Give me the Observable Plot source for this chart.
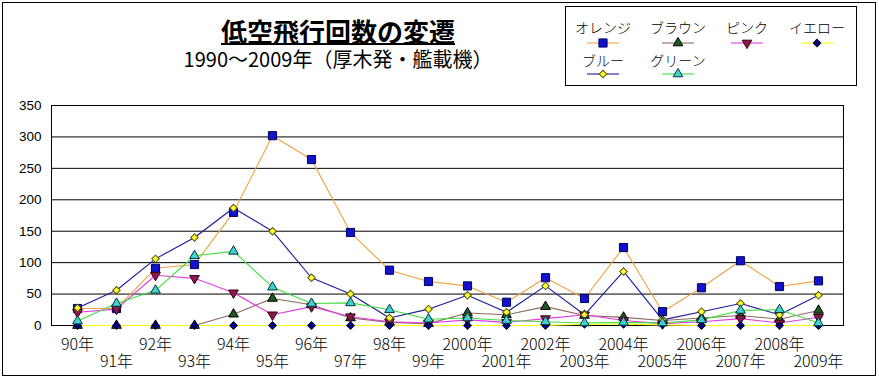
<!DOCTYPE html>
<html>
<head>
<meta charset="utf-8">
<script src="https://cdn.jsdelivr.net/npm/d3@7"></script>
<script src="https://cdn.jsdelivr.net/npm/@observablehq/plot@0.6"></script>
<style>
  html, body { margin: 0; padding: 0; background: #fff; }
  #wrap { position: relative; width: 879px; height: 379px; font-family: "Noto Sans CJK JP", sans-serif; }
  #chart { position: absolute; left: 0; top: 0; }
  .outer { position: absolute; left: 2px; top: 2px; width: 872px; height: 372px; border: 1px solid #000; pointer-events: none; }
  #title { position: absolute; left: 0; width: 676px; top: 19px; height: 26px; text-align: center; font-size: 26px; line-height: 24px; font-weight: bold; }
  #title span { border-bottom: 2px solid #000; display: inline-block; line-height: 24px; }
  #subtitle { position: absolute; left: 0; width: 676px; top: 49px; text-align: center; font-size: 20px; line-height: 20px; }
  .lbox { position: absolute; left: 565px; top: 6px; width: 290px; height: 78px; border: 1px solid #000; background: #fff; }
  .ltext { position: absolute; width: 80px; text-align: center; font-size: 14px; line-height: 14px; color: #000; font-weight: 300; }
  .lsym { position: absolute; }
</style>
</head>
<body>
<div id="wrap">
  <div id="chart"></div>
  <div class="outer"></div>
  <div id="title"><span>低空飛行回数の変遷</span></div>
  <div id="subtitle">1990～2009年（厚木発・艦載機）</div>
  <div class="lbox"></div>
  <div id="legend"></div>
</div>
<script>
// ---- data ----
const xLabels = ["90年","91年","92年","93年","94年","95年","96年","97年","98年","99年",
                 "2000年","2001年","2002年","2003年","2004年","2005年","2006年","2007年","2008年","2009年"];
const seriesNames = ["オレンジ","ブラウン","ピンク","イエロー","ブルー","グリーン"];
const orange = [27,27,91,97,180,302,264,148,88,70,63,37,76,43,124,22,60,103,62,71];
const brown  = [0,0,0,0,18,43,33,12,5,3,20,17,30,16,13,8,12,16,10,24];
const pink   = [21,26,80,75,52,17,30,14,6,4,9,5,11,17,8,3,6,11,4,13];
const yellow = [0,0,0,0,0,0,0,0,0,0,0,0,0,2,2,1,0,0,0,0];
const blue   = [28,56,106,140,187,150,76,50,12,26,48,21,63,17,86,9,22,35,17,48];
const green  = [7,35,56,111,118,61,35,36,25,10,12,8,6,4,5,4,9,24,25,4];
const yTicks = [0,50,100,150,200,250,300,350];

// ---- styles ----
const styles = [
  {line:"#f0a040", fill:"#1212cc", stroke:"#000060", symbol:"square",   rotate:0,   r:4.6},
  {line:"#8e6a5c", fill:"#1e5a1e", stroke:"#000000", symbol:"triangle", rotate:0,   r:3.6},
  {line:"#e03ce0", fill:"#8a1a4a", stroke:"#3a0018", symbol:"triangle", rotate:180, r:3.6},
  {line:"#ffff00", fill:"#000080", stroke:"#000040", symbol:"square",   rotate:45,  r:3.0},
  {line:"#1a1a99", fill:"#ffff33", stroke:"#555500", symbol:"square",   rotate:45,  r:3.0},
  {line:"#3ee03e", fill:"#40d0d0", stroke:"#003838", symbol:"triangle", rotate:0,   r:3.6}
];
const values = [orange, brown, pink, yellow, blue, green];

const rows = [];
values.forEach((arr, si) => arr.forEach((v, i) => rows.push({series: seriesNames[si], x: xLabels[i], y: v})));

const evenLabels = xLabels.filter((d, i) => i % 2 === 0);
const oddLabels  = xLabels.filter((d, i) => i % 2 === 1);

const marks = [
  Plot.gridY(yTicks, {stroke: "#000", strokeOpacity: 1, strokeWidth: 1}),
  Plot.frame({stroke: "#000"}),
  Plot.axisY({ticks: yTicks, tickSize: 0, tickPadding: 10, fontSize: 13.5, fontFamily: "Liberation Sans", label: null}),
  Plot.axisX({ticks: evenLabels, tickSize: 0, tickPadding: 13, fontSize: 16, fontWeight: 300, label: null}),
  Plot.axisX({ticks: oddLabels, tickSize: 0, tickPadding: 30, fontSize: 16, fontWeight: 300, label: null})
];
seriesNames.forEach((name, si) => {
  const s = styles[si];
  const data = rows.filter(d => d.series === name);
  marks.push(Plot.line(data, {x: "x", y: "y", stroke: s.line, strokeWidth: 1.1}));
});
seriesNames.forEach((name, si) => {
  const s = styles[si];
  const data = rows.filter(d => d.series === name);
  marks.push(Plot.dot(data, {x: "x", y: "y", symbol: () => s.symbol, r: s.r, rotate: s.rotate, fill: s.fill, stroke: s.stroke, strokeWidth: 1}));
});

const chart = Plot.plot({
  width: 879,
  height: 379,
  marginLeft: 51,
  marginRight: 36,
  marginTop: 105,
  marginBottom: 54,
  style: {fontFamily: "'Noto Sans CJK JP', sans-serif", background: "transparent", color: "#000"},
  x: {type: "point", domain: xLabels, padding: 0.5},
  y: {domain: [0, 350]},
  symbol: {type: "identity"},
  marks
});
document.getElementById("chart").appendChild(chart);

// ---- legend ----
const legendPos = [
  {cx: 603, ty: 20, ly: 43},
  {cx: 678, ty: 20, ly: 43},
  {cx: 747, ty: 20, ly: 43},
  {cx: 817, ty: 20, ly: 43},
  {cx: 603, ty: 53, ly: 74},
  {cx: 678, ty: 53, ly: 74}
];
const legend = document.getElementById("legend");
const symMap = {square: d3.symbolSquare, triangle: d3.symbolTriangle};
seriesNames.forEach((name, si) => {
  const p = legendPos[si], s = styles[si];
  const t = document.createElement("div");
  t.className = "ltext";
  t.style.left = (p.cx - 40) + "px";
  t.style.top = p.ty + "px";
  t.textContent = name;
  legend.appendChild(t);
  const svg = d3.create("svg").attr("class", "lsym").attr("width", 36).attr("height", 12)
    .style("left", (p.cx - 18) + "px").style("top", (p.ly - 6) + "px");
  svg.append("line").attr("x1", 2).attr("x2", 34).attr("y1", 6).attr("y2", 6).attr("stroke", s.line).attr("stroke-width", 1.1);
  svg.append("path").attr("d", d3.symbol(symMap[s.symbol], Math.PI * s.r * s.r)())
    .attr("transform", `translate(18,6) rotate(${s.rotate})`)
    .attr("fill", s.fill).attr("stroke", s.stroke);
  legend.appendChild(svg.node());
});
</script>
</body>
</html>
